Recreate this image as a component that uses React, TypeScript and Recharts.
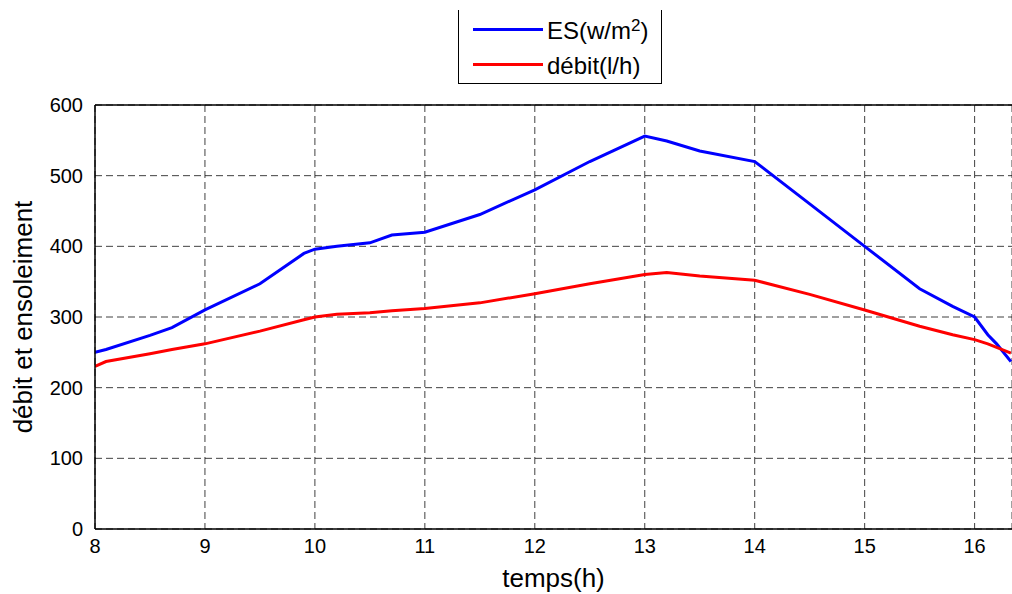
import React from "react";
import { LineChart, Line, XAxis, YAxis, CartesianGrid, ReferenceLine } from "recharts";

const timeH = [8, 8.1, 8.5, 8.7, 9, 9.5, 9.9, 10, 10.2, 10.5, 10.7, 11, 11.5, 12, 12.5, 13, 13.2, 13.5, 14, 14.5, 15, 15.5, 15.8, 16, 16.12, 16.2, 16.33];
const esValues = [250, 254, 274, 285, 310, 347, 390, 396, 400, 405, 416, 420, 445, 480, 520, 556, 549, 535, 520, 460, 400, 340, 315, 300, 275, 262, 237];
const debitValues = [230, 237, 248, 254, 262, 280, 296, 300, 304, 306, 309, 312, 320, 333, 347, 360, 363, 358, 352, 332, 310, 287, 275, 268, 262, 257, 249];
const xTicks = [8, 9, 10, 11, 12, 13, 14, 15, 16];
const yTicks = [0, 100, 200, 300, 400, 500, 600];

const data = timeH.map((t, i) => ({ t, es: esValues[i], debit: debitValues[i] }));

const FONT = "'Liberation Sans', Arial, sans-serif";

const LegendBox = () => (
  <div
    style={{
      position: "absolute",
      left: 458,
      top: 10,
      width: 204,
      height: 74,
      border: "1px solid #000",
      borderTop: "none",
      background: "#fff",
      fontFamily: FONT,
      fontSize: 24,
      color: "#000",
      boxSizing: "border-box",
    }}
  >
    <div style={{ position: "absolute", left: 14, top: 18, width: 70, height: 3, background: "#0000ff" }} />
    <div style={{ position: "absolute", left: 88, top: 8, lineHeight: "26px", whiteSpace: "nowrap" }}>
      ES(w/m<sup style={{ fontSize: 17, verticalAlign: "8px", lineHeight: 0 }}>2</sup>)
    </div>
    <div style={{ position: "absolute", left: 14, top: 53, width: 70, height: 3, background: "#ff0000" }} />
    <div style={{ position: "absolute", left: 88, top: 43, lineHeight: "26px", whiteSpace: "nowrap" }}>débit(l/h)</div>
  </div>
);

export default function App() {
  return (
    <div style={{ position: "fixed", left: 0, top: 0, width: 1012, height: 594, background: "#fff", overflow: "hidden" }}>
      <style>{"html,body{overflow:hidden;}"}</style>
      <LineChart width={1012} height={594} data={data} margin={{ top: 105, right: 0, bottom: 0, left: 8 }}>
        <CartesianGrid stroke="#000" strokeDasharray="7 4" strokeWidth={1} strokeOpacity={0.75} />
        <XAxis
          dataKey="t"
          type="number"
          domain={[8, 16.34]}
          ticks={xTicks}
          allowDataOverflow
          height={65}
          tickLine={false}
          axisLine={{ stroke: "#000", strokeWidth: 1.5 }}
          tick={{ fill: "#000", fontSize: 20, fontFamily: FONT }}
          tickMargin={4}
          label={{ value: "temps(h)", position: "insideBottom", offset: 7, fill: "#000", fontSize: 26, fontFamily: FONT }}
        />
        <YAxis
          type="number"
          domain={[0, 600]}
          ticks={yTicks}
          width={87}
          tickLine={false}
          axisLine={{ stroke: "#000", strokeWidth: 1.5 }}
          tick={{ fill: "#000", fontSize: 20, fontFamily: FONT }}
          tickMargin={6}
          label={{ value: "débit et ensoleiment", angle: -90, position: "insideLeft", offset: 15, style: { textAnchor: "middle" }, fill: "#000", fontSize: 26, fontFamily: FONT }}
        />
        <ReferenceLine y={600} stroke="#000" strokeWidth={1.5} />
        <Line type="linear" dataKey="es" stroke="#0000ff" strokeWidth={3} dot={false} isAnimationActive={false} />
        <Line type="linear" dataKey="debit" stroke="#ff0000" strokeWidth={3} dot={false} isAnimationActive={false} />
      </LineChart>
      <LegendBox />
    </div>
  );
}
